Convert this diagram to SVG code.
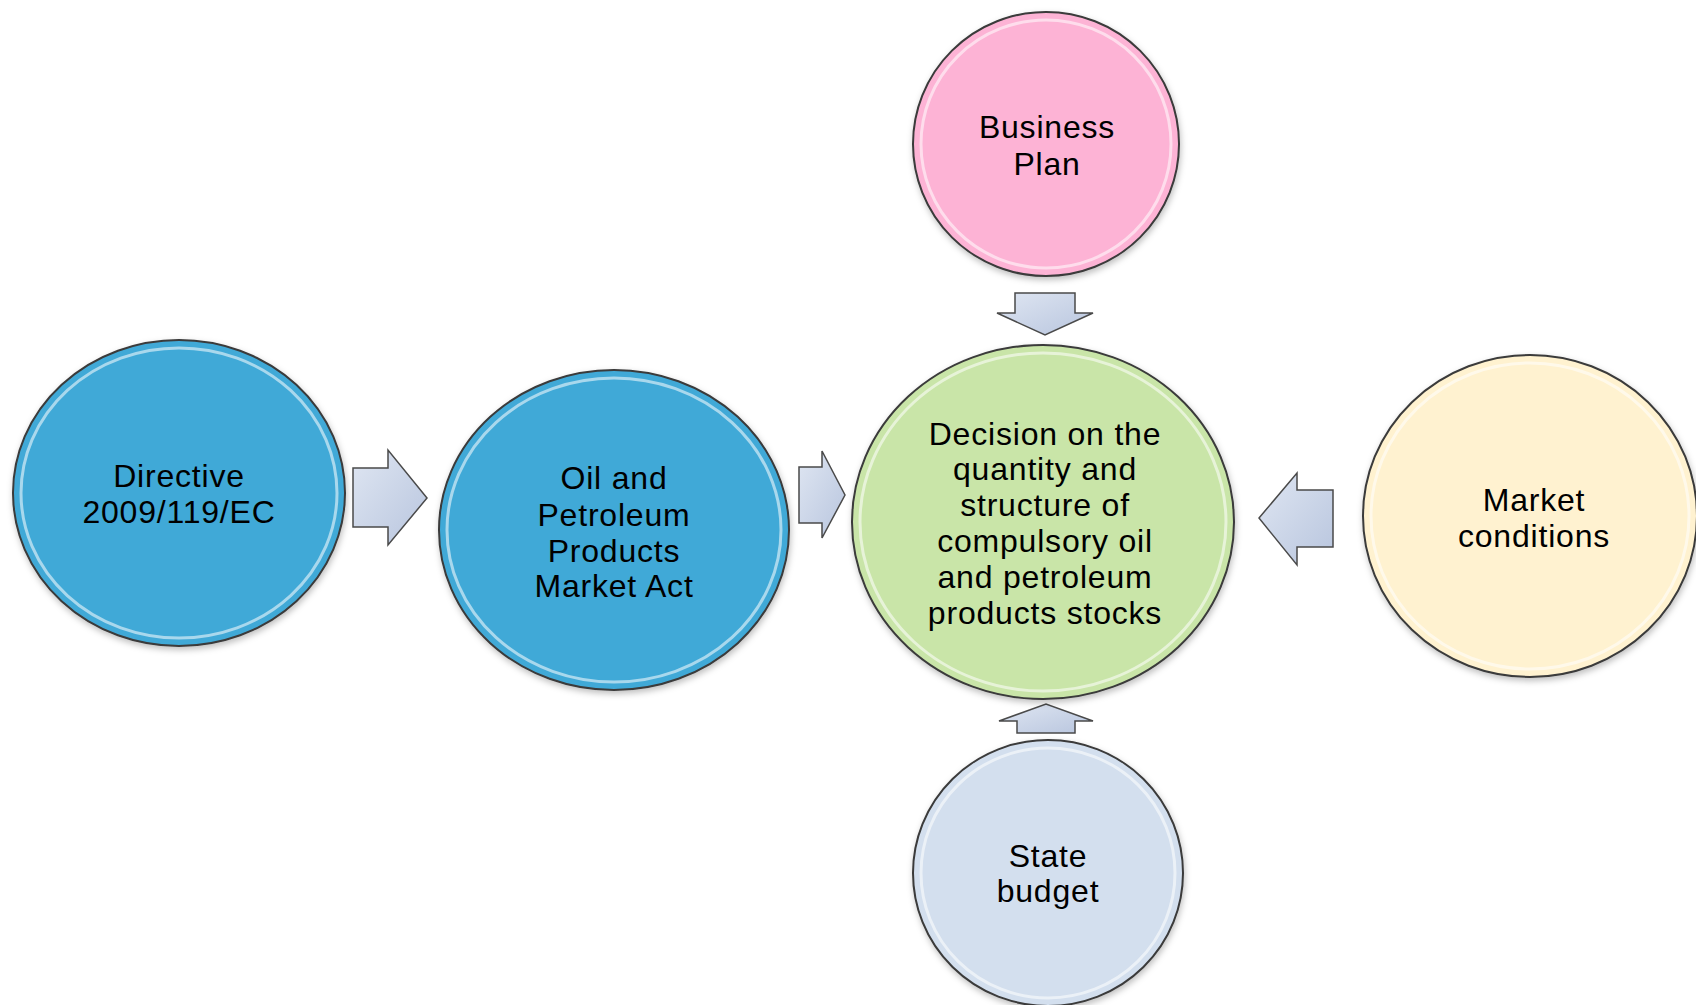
<svg xmlns="http://www.w3.org/2000/svg" width="1696" height="1005" viewBox="0 0 1696 1005">
<style>
.node{stroke:#3a3a3a;stroke-width:2}
.rim{fill:none;stroke:#ffffff;stroke-opacity:0.55;stroke-width:3}
.lbl{font-family:"Liberation Sans",Arial,sans-serif;font-size:32px;letter-spacing:0.8px;fill:#000;text-anchor:middle}
.arr{fill:url(#ag);stroke:#4a4a4a;stroke-width:1.5;stroke-linejoin:miter}
</style>
<defs>
<filter id="sh" x="-10%" y="-10%" width="120%" height="120%">
<feDropShadow dx="1" dy="3" stdDeviation="3" flood-color="#000" flood-opacity="0.25"/>
</filter>
<linearGradient id="ag" x1="0" y1="0" x2="1" y2="1">
<stop offset="0" stop-color="#dfe6f2"/>
<stop offset="1" stop-color="#b8c5de"/>
</linearGradient>
</defs>
<rect width="1696" height="1005" fill="#ffffff"/>
<g id="connectors">
<polygon class="arr" points="353,468 388,468 388,450 427,498 388,545 388,527 353,527"/>
<polygon class="arr" points="799,467 822,467 822,451 845,495 822,538 822,523 799,523"/>
<polygon class="arr" points="1333,490 1297,490 1297,473 1259,518 1297,565 1297,547 1333,547"/>
<polygon class="arr" points="1015,293 1075,293 1075,313 1093,313 1045,335 997,313 1015,313"/>
<polygon class="arr" points="1017,733 1017,721 999,721 1046,704 1093,721 1075,721 1075,733"/>
</g>
<g id="directive">
<ellipse class="node" cx="179" cy="493" rx="166" ry="153" fill="#40a9d7" filter="url(#sh)"/>
<ellipse class="rim" cx="179" cy="493" rx="158" ry="145"/>
<text class="lbl" x="179" y="487">Directive</text>
<text class="lbl" x="179" y="523">2009/119/EC</text>
</g>
<g id="oil-act">
<ellipse class="node" cx="614" cy="530" rx="175" ry="160" fill="#40a9d7" filter="url(#sh)"/>
<ellipse class="rim" cx="614" cy="530" rx="167" ry="152"/>
<text class="lbl" x="614" y="489">Oil and</text>
<text class="lbl" x="614" y="526">Petroleum</text>
<text class="lbl" x="614" y="562">Products</text>
<text class="lbl" x="614" y="597">Market Act</text>
</g>
<g id="decision">
<ellipse class="node" cx="1043" cy="522" rx="191" ry="177" fill="#c9e5a8" filter="url(#sh)"/>
<ellipse class="rim" cx="1043" cy="522" rx="183" ry="169"/>
<text class="lbl" x="1045" y="445">Decision on the</text>
<text class="lbl" x="1045" y="480">quantity and</text>
<text class="lbl" x="1045" y="516">structure of</text>
<text class="lbl" x="1045" y="552">compulsory oil</text>
<text class="lbl" x="1045" y="588">and petroleum</text>
<text class="lbl" x="1045" y="624">products stocks</text>
</g>
<g id="business-plan">
<ellipse class="node" cx="1046" cy="144" rx="133" ry="132" fill="#fdb3d5" filter="url(#sh)"/>
<ellipse class="rim" cx="1046" cy="144" rx="125" ry="124"/>
<text class="lbl" x="1047" y="138">Business</text>
<text class="lbl" x="1047" y="175">Plan</text>
</g>
<g id="market-conditions">
<ellipse class="node" cx="1530" cy="516" rx="167" ry="161" fill="#fff2d0" filter="url(#sh)"/>
<ellipse class="rim" cx="1530" cy="516" rx="159" ry="153"/>
<text class="lbl" x="1534" y="511">Market</text>
<text class="lbl" x="1534" y="547">conditions</text>
</g>
<g id="state-budget">
<ellipse class="node" cx="1048" cy="873" rx="135" ry="133" fill="#d3dfee" filter="url(#sh)"/>
<ellipse class="rim" cx="1048" cy="873" rx="127" ry="125"/>
<text class="lbl" x="1048" y="867">State</text>
<text class="lbl" x="1048" y="902">budget</text>
</g>
</svg>
